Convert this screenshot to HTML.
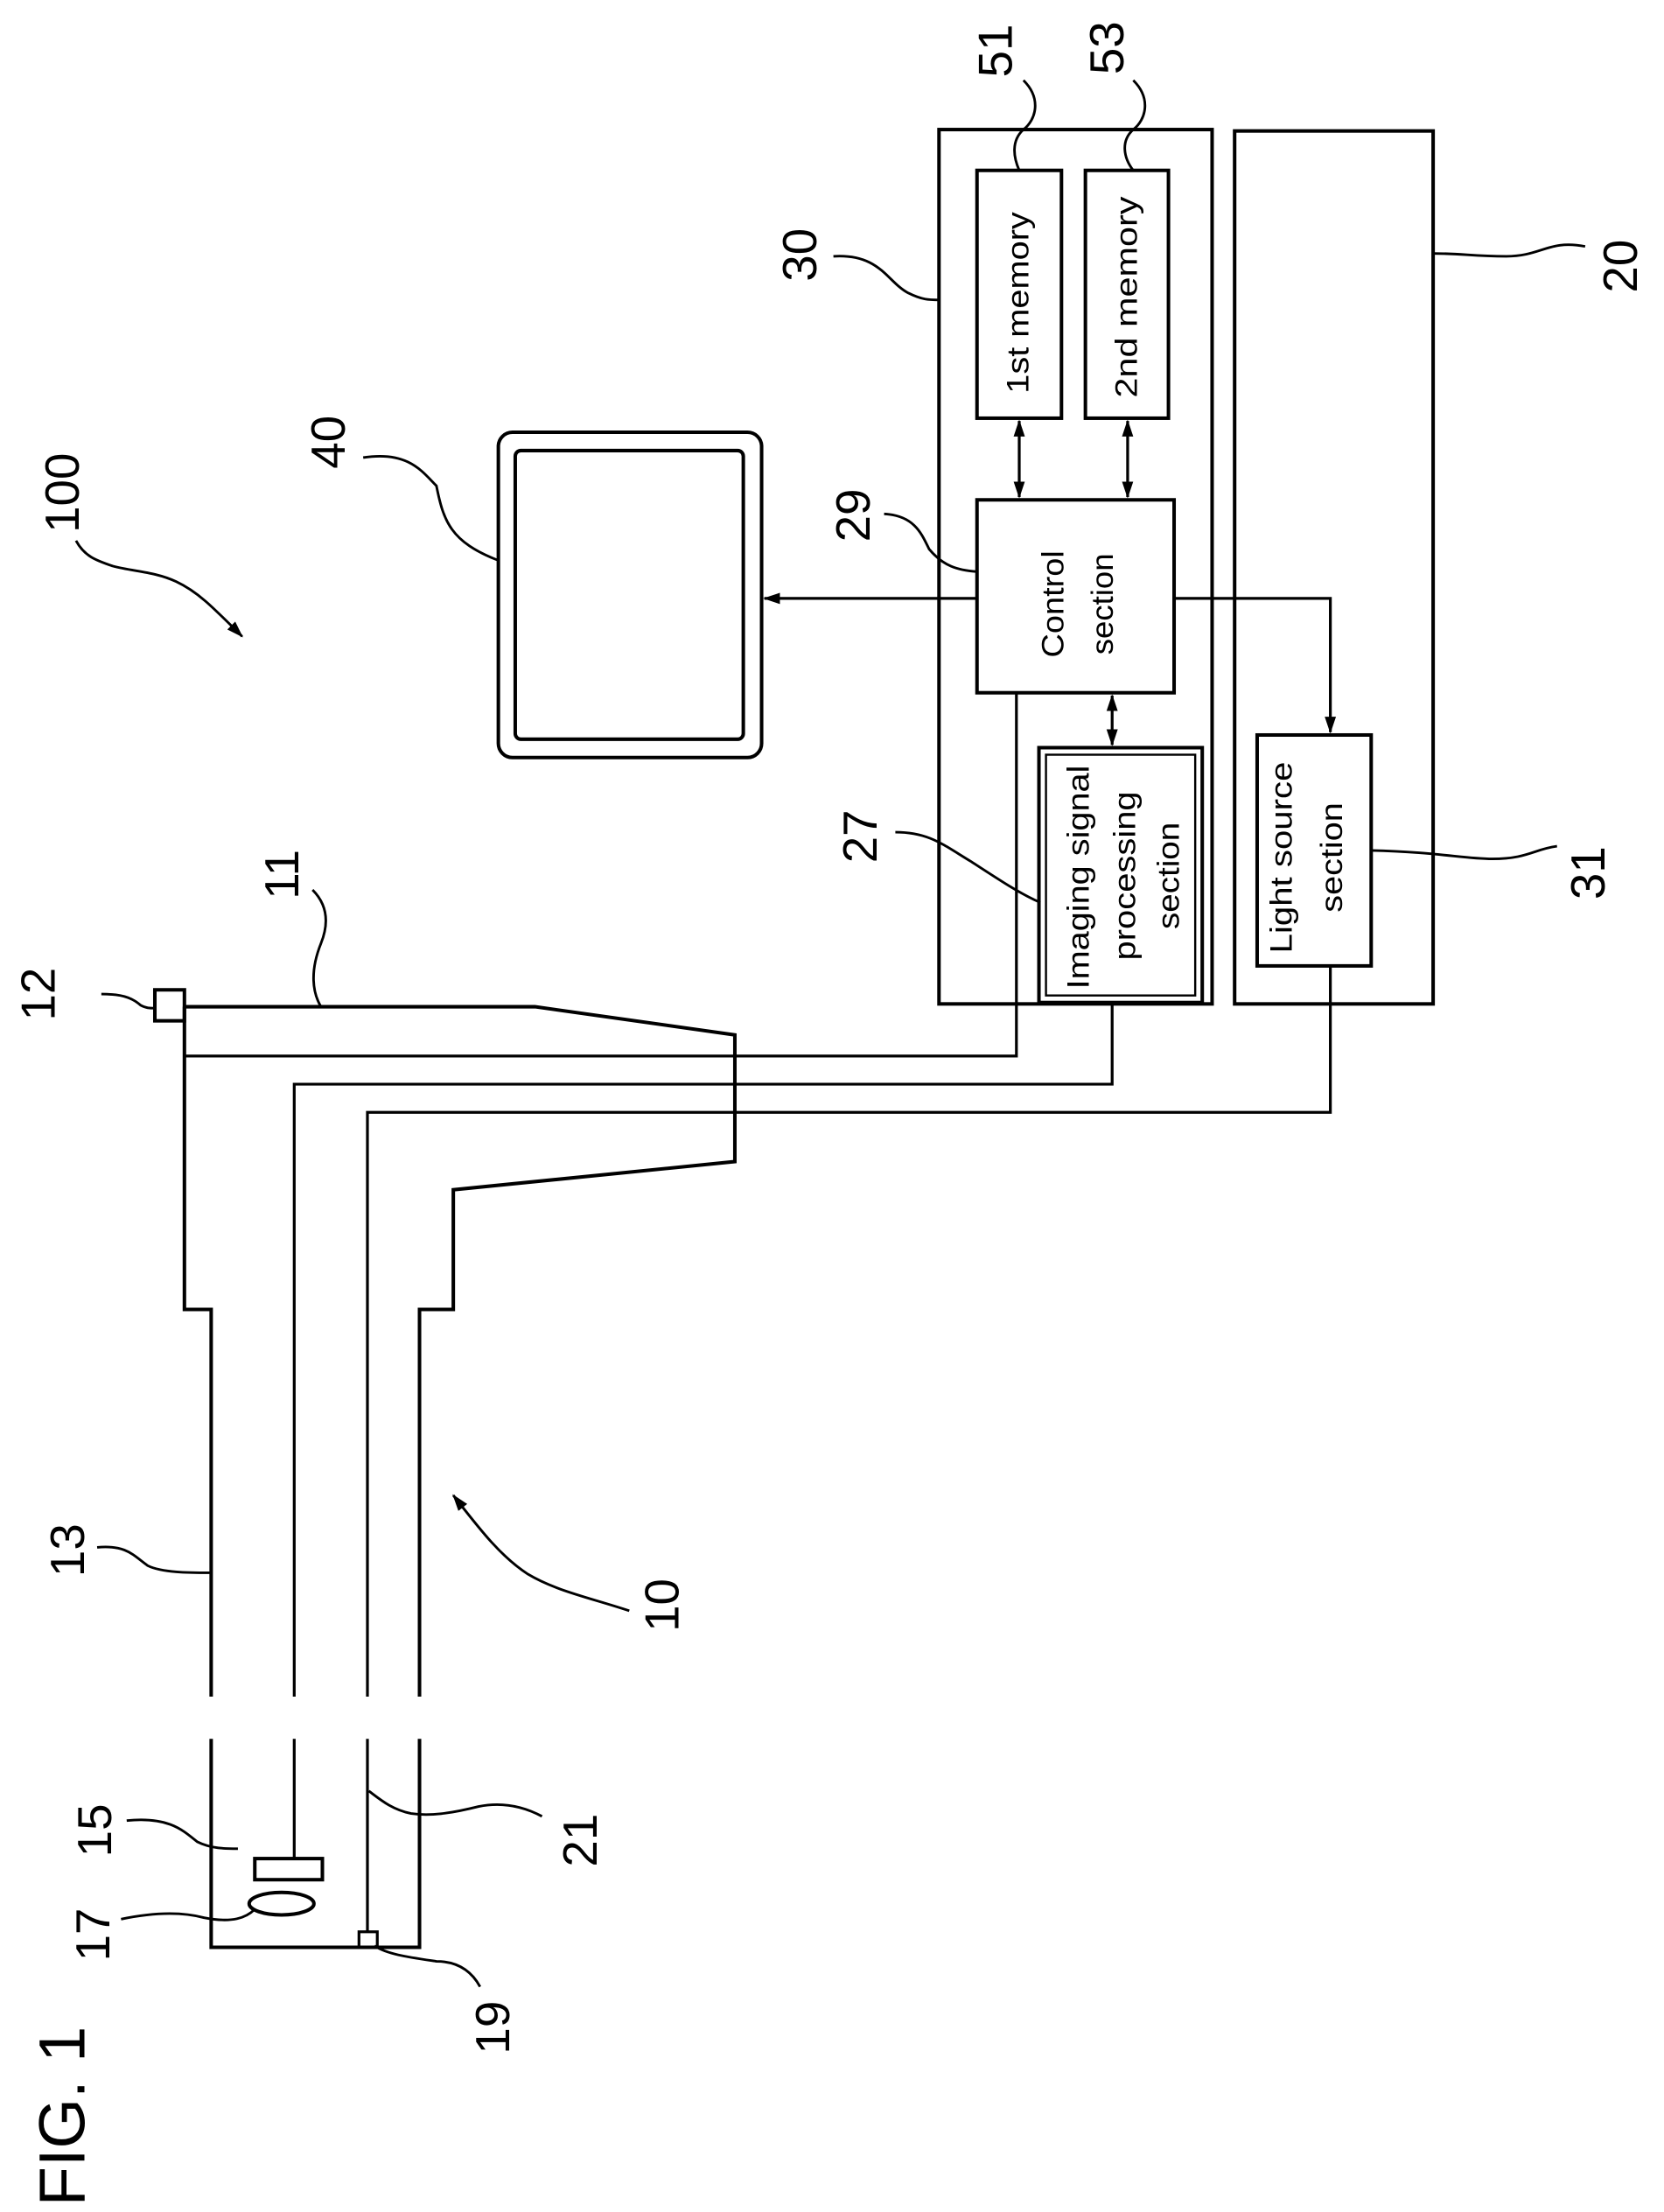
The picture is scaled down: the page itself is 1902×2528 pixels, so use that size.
<!DOCTYPE html>
<html><head><meta charset="utf-8"><style>
html,body{margin:0;padding:0;background:#fff;}
svg{display:block;}
text{font-family:"Liberation Sans",sans-serif;fill:#000;}
</style></head><body>
<svg width="1902" height="2528" viewBox="0 0 1182 1571" xmlns="http://www.w3.org/2000/svg">
<defs>
<marker id="a" markerWidth="12" markerHeight="10" refX="11" refY="5" orient="auto" markerUnits="userSpaceOnUse"><path d="M0,1 L12,5 L0,9 Z" fill="#000"/></marker>
<marker id="b" markerWidth="12" markerHeight="10" refX="1" refY="5" orient="auto" markerUnits="userSpaceOnUse"><path d="M12,1 L0,5 L12,9 Z" fill="#000"/></marker>
</defs>
<g fill="none" stroke="#000" stroke-width="2.5">
<rect x="667" y="92" width="194" height="621"/>
<rect x="877" y="93" width="141" height="620"/>
<rect x="694" y="121" width="60" height="176"/>
<rect x="771" y="121" width="59" height="176"/>
<rect x="694" y="355" width="140" height="137"/>
<rect x="738" y="531" width="116" height="181"/>
<rect x="743" y="536" width="106" height="171" stroke-width="1.5"/>
<rect x="893" y="522" width="81" height="164"/>
<rect x="354" y="307" width="187" height="231" rx="10"/>
<rect x="366" y="320" width="162" height="205" rx="4"/>
<line x1="724" y1="299" x2="724" y2="353" marker-start="url(#b)" marker-end="url(#a)" stroke-width="2"/>
<line x1="801" y1="299" x2="801" y2="353" marker-start="url(#b)" marker-end="url(#a)" stroke-width="2"/>
<line x1="790" y1="494" x2="790" y2="529" marker-start="url(#b)" marker-end="url(#a)" stroke-width="2"/>
<line x1="694" y1="425" x2="543" y2="425" marker-end="url(#a)" stroke-width="2"/>
<polyline points="834,425 945,425 945,520" marker-end="url(#a)" stroke-width="2"/>
<polyline points="131,715 380,715 522,735 522,825 322,845 322,930 298,930 298,1205"/>
<polyline points="131,715 131,930 150,930 150,1205"/>
<polyline points="150,1235 150,1383 298,1383 298,1235"/>
<polyline points="131,750 722,750 722,492" stroke-width="2"/>
<polyline points="209,1205 209,770 790,770 790,712" stroke-width="2"/>
<polyline points="261,1205 261,790 945,790 945,686" stroke-width="2"/>
<line x1="209" y1="1235" x2="209" y2="1320" stroke-width="2"/>
<line x1="261" y1="1235" x2="261" y2="1372" stroke-width="2"/>
<rect x="181" y="1320" width="48" height="15"/>
<ellipse cx="200" cy="1352" rx="23" ry="8"/>
<rect x="255" y="1372" width="13" height="11" stroke-width="2"/>
<rect x="110" y="703" width="21" height="22" stroke-width="2.5"/>
<g stroke-width="1.8">
<path d="M727,57 C740,70 736,85 727,92 C718,100 720,112 724,121"/>
<path d="M805,57 C818,70 814,85 805,92 C796,100 798,112 805,121"/>
<path d="M592,182 C625,180 630,200 645,208 C655,213 660,213 667,213"/>
<path d="M1126,175 C1100,170 1095,182 1070,182 C1045,182 1040,180 1018,180"/>
<path d="M258,325 C290,320 300,335 310,345 C315,370 320,385 354,398"/>
<path d="M628,365 C650,366 655,380 660,390 C670,402 680,405 694,406"/>
<path d="M636,591 C660,591 670,600 690,612 C710,625 725,635 739,641"/>
<path d="M222,632 C235,645 232,660 228,670 C220,690 222,705 228,715"/>
<path d="M72,706 C90,706 95,710 100,714 C104,716 106,716 110,716"/>
<path d="M1106,601 C1090,603 1085,610 1060,610 C1040,610 1020,605 974,604"/>
<path d="M69,1099 C90,1097 95,1105 105,1112 C115,1117 135,1117 149,1117"/>
<path d="M90,1293 C120,1290 130,1300 140,1308 C150,1313 160,1313 169,1313"/>
<path d="M86,1363 C110,1358 130,1358 145,1362 C165,1366 175,1362 181,1356"/>
<path d="M385,1290 C370,1282 355,1280 340,1283 C320,1288 305,1290 292,1288 C278,1285 270,1278 262,1272"/>
<path d="M341,1411 C335,1400 325,1393 310,1393 C290,1390 275,1388 266,1382"/>
<path d="M54,384 C60,395 68,398 80,402 C95,406 110,406 125,413 C140,420 150,430 172,452" marker-end="url(#a)"/>
<path d="M447,1144 C420,1135 395,1130 375,1118 C355,1105 340,1085 322,1062" marker-end="url(#a)"/>
</g>
</g>
<g font-size="22" text-anchor="middle" dominant-baseline="central">
<text transform="translate(723,215) rotate(-90)" textLength="129" lengthAdjust="spacingAndGlyphs">1st memory</text>
<text transform="translate(800,211) rotate(-90)" textLength="143" lengthAdjust="spacingAndGlyphs">2nd memory</text>
<text transform="translate(748,429) rotate(-90)" textLength="76" lengthAdjust="spacingAndGlyphs">Control</text>
<text transform="translate(783,429) rotate(-90)" textLength="72" lengthAdjust="spacingAndGlyphs">section</text>
<text transform="translate(766,623) rotate(-90)" textLength="159" lengthAdjust="spacingAndGlyphs">Imaging signal</text>
<text transform="translate(799,622) rotate(-90)" textLength="120" lengthAdjust="spacingAndGlyphs">processing</text>
<text transform="translate(830,622) rotate(-90)" textLength="76" lengthAdjust="spacingAndGlyphs">section</text>
<text transform="translate(910,609) rotate(-90)" textLength="136" lengthAdjust="spacingAndGlyphs">Light source</text>
<text transform="translate(946,609) rotate(-90)" textLength="78" lengthAdjust="spacingAndGlyphs">section</text>
</g>
<g font-size="34" text-anchor="middle" dominant-baseline="central">
<text transform="translate(707,36) rotate(-90)">51</text>
<text transform="translate(786,34) rotate(-90)">53</text>
<text transform="translate(568,181) rotate(-90)">30</text>
<text transform="translate(1151,189) rotate(-90)">20</text>
<text transform="translate(233,314) rotate(-90)">40</text>
<text transform="translate(44,350) rotate(-90)">100</text>
<text transform="translate(606,366) rotate(-90)">29</text>
<text transform="translate(611,594) rotate(-90)">27</text>
<text transform="translate(200,621) rotate(-90)">11</text>
<text transform="translate(27,706) rotate(-90)">12</text>
<text transform="translate(1128,620) rotate(-90)">31</text>
<text transform="translate(48,1101) rotate(-90)">13</text>
<text transform="translate(470,1140) rotate(-90)">10</text>
<text transform="translate(67,1300) rotate(-90)">15</text>
<text transform="translate(412,1307) rotate(-90)">21</text>
<text transform="translate(66,1374) rotate(-90)">17</text>
<text transform="translate(350,1440) rotate(-90)">19</text>
<text transform="translate(44,1503) rotate(-90)" font-size="46">FIG. 1</text>
</g>
</svg>
</body></html>
